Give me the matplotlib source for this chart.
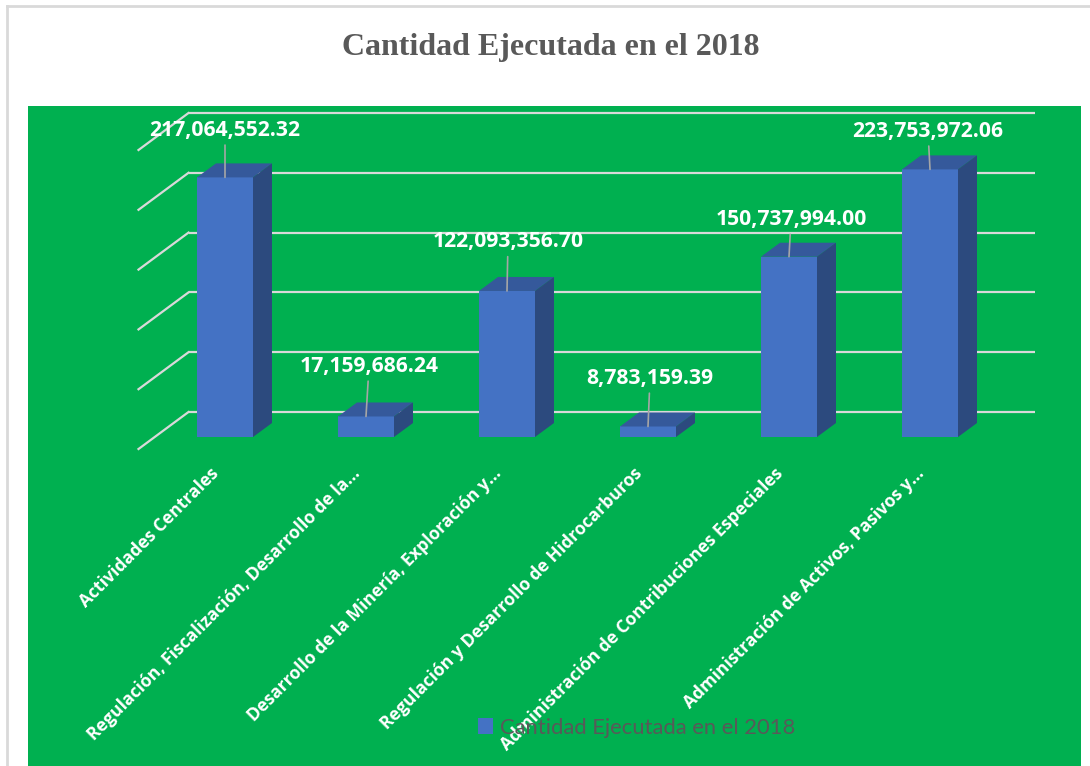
import matplotlib
matplotlib.use("Agg")
import matplotlib.pyplot as plt
from matplotlib.patches import Polygon
from matplotlib.lines import Line2D

# data
categories = [
    "Actividades Centrales",
    "Regulación, Fiscalización, Desarrollo de la…",
    "Desarrollo de la Minería, Exploración y…",
    "Regulación y Desarrollo de Hidrocarburos",
    "Administración de Contribuciones Especiales",
    "Administración de Activos, Pasivos y…",
]
values = [217064552.32, 17159686.24, 122093356.70, 8783159.39, 150737994.00, 223753972.06]
value_labels = ["217,064,552.32", "17,159,686.24", "122,093,356.70",
                "8,783,159.39", "150,737,994.00", "223,753,972.06"]
gridlines = [0, 50e6, 100e6, 150e6, 200e6, 250e6]
series_name = "Cantidad Ejecutada en el 2018"

# label offsets in pixels (dx, dy) from bar top
label_offsets = [(0, 47), (3, 50), (1, 49), (2, 48), (2, 37), (-2, 38)]

GREEN = "#00B050"
FRONT = "#4472C4"
TOP = "#35599B"
SIDE = "#2C4A7E"
GRID = "#D9D9D9"

fig = plt.figure(figsize=(10.9, 7.66), dpi=100)
W, H = 1090, 766

# light border of chart area
fig.add_artist(Line2D([7 / W, 1], [1 - 6 / H, 1 - 6 / H], color=GRID, lw=2))
fig.add_artist(Line2D([7 / W, 7 / W], [0, 1 - 6 / H], color=GRID, lw=2))

ax = fig.add_axes([28 / W, 0, (1081 - 28) / W, (766 - 106) / H])
ax.set_facecolor(GREEN)
for s in ax.spines.values():
    s.set_visible(False)
ax.set_xticks([])
ax.set_yticks([])

px_x = 141.0                 # pixels per category
px_y = 59.8 / 50e6           # pixels per unit value
ax.set_xlim((28 - 225) / px_x, (1081 - 225) / px_x)
ax.set_ylim(-(766 - 437) / px_y, (437 - 106) / px_y)

# 3d depth offsets (converted from pixels)
bar_dx, bar_dy = 19 / px_x, 14 / px_y
wall_dx, wall_dy = 34 / px_x, 25 / px_y
floor_dx, floor_dy = 50 / px_x, 37 / px_y
wall_right = (1035 - 225) / px_x

# back wall + floor gridlines
for g in gridlines:
    yb = g + wall_dy
    ax.plot([-0.5 + wall_dx, wall_right], [yb, yb], color=GRID, lw=1.6, zorder=1,
            solid_capstyle="butt")
    ax.plot([-0.5 + wall_dx - floor_dx, -0.5 + wall_dx], [yb - floor_dy, yb],
            color=GRID, lw=1.6, zorder=1)

x = list(range(len(values)))
bw = 56 / px_x
ax.bar(x, values, width=bw, color=FRONT, zorder=3, label=series_name)

for i, v in zip(x, values):
    x0, x1 = i - bw / 2, i + bw / 2
    top = Polygon([(x0, v), (x1, v), (x1 + bar_dx, v + bar_dy), (x0 + bar_dx, v + bar_dy)],
                  closed=True, facecolor=TOP, edgecolor="none", zorder=3)
    side = Polygon([(x1, 0), (x1, v), (x1 + bar_dx, v + bar_dy), (x1 + bar_dx, bar_dy)],
                   closed=True, facecolor=SIDE, edgecolor="none", zorder=3)
    ax.add_patch(top)
    ax.add_patch(side)

# data labels with leader lines
for i, v, lab, (ox, oy) in zip(x, values, value_labels, label_offsets):
    ax.annotate(lab, xy=(i, v), xytext=(ox, oy), textcoords="offset pixels",
                ha="center", va="center", color="white", fontsize=15.2,
                fontweight="bold", family="Open Sans", zorder=5,
                arrowprops=dict(arrowstyle="-", color="#A6A6A6", lw=1.2,
                                shrinkA=1, shrinkB=0))

# category labels, rotated
for i, c in zip(x, categories):
    ax.text(i - 0.06, -28e6, c, rotation=45, rotation_mode="anchor",
            ha="right", va="center", color="white", fontsize=12.6,
            fontweight="bold", family="Open Sans", zorder=4)

leg = ax.legend(loc="center", bbox_to_anchor=(0.578, 0.058), frameon=False,
                prop={"family": "Lato", "size": 15.8}, handlelength=0.7,
                handleheight=0.7, handletextpad=0.3)
for t in leg.get_texts():
    t.set_color("#595959")
leg.set_zorder(6)

fig.text(551 / W, 1 - 47 / H, "Cantidad Ejecutada en el 2018", ha="center", va="center",
         fontsize=23, fontweight="bold", family="Liberation Serif", color="#595959")

fig.savefig("out.png", dpi=100)
